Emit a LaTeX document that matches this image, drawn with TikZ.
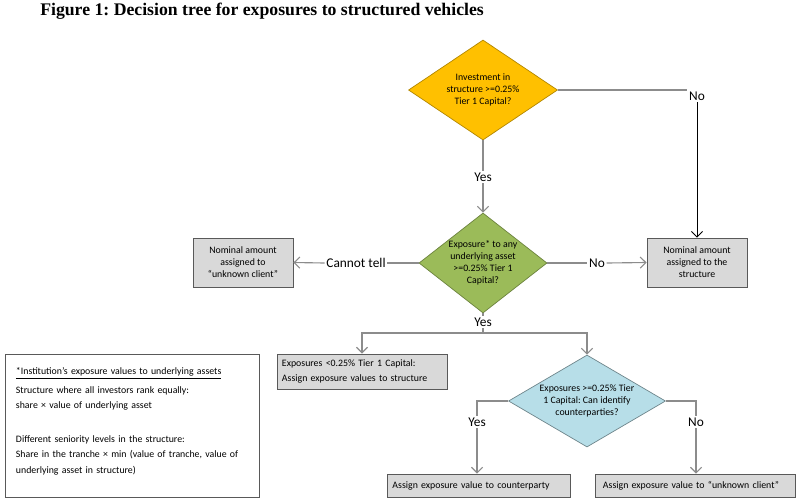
\documentclass[tikz,border=0pt]{standalone}
\usepackage{fontspec}
\setmainfont{Carlito}
\newfontfamily\titlefont{Liberation Serif}
\usetikzlibrary{arrows.meta, shapes.geometric}
\frenchspacing
\definecolor{qyellow}{HTML}{FFC000}
\definecolor{qgreen}{HTML}{9BBB59}
\definecolor{qblue}{HTML}{B7DEE8}
\definecolor{boxgray}{HTML}{D9D9D9}
\definecolor{boxedge}{HTML}{595959}
\definecolor{linegray}{HTML}{8C8C8C}
\tikzset{
  question/.style={diamond, inner sep=0pt, line width=0.5pt},
  qtext/.style={align=center, inner sep=0pt, font=\fontsize{7}{8.4}\selectfont},
  outcome/.style={rectangle, draw=boxedge, fill=boxgray, line width=0.6pt, inner sep=2pt,
    align=center, font=\fontsize{7}{8.6}\selectfont},
  answer/.style={inner sep=1pt, font=\fontsize{9.5}{11}\selectfont},
  link/.style={draw=linegray, line width=0.8pt},
  seta/.style={-{Straight Barb[length=1.4mm, width=2.8mm]}},
  titulo/.style={anchor=west, inner sep=0pt, font=\titlefont\bfseries\fontsize{12.6}{14}\selectfont},
}

\begin{document}
\begin{tikzpicture}[x=0.025cm, y=-0.025cm]
  \useasboundingbox (0,0) rectangle (800,501);
  \node[titulo] (title) at (40,11) {Figure 1: Decision tree for exposures to structured vehicles};

  % ---------------- first question ----------------
  \node[question, fill=qyellow, draw=qyellow!70!black, minimum width=3.725cm, minimum height=2.5cm,
    label={[qtext]center:{Investment in\\ structure >=0.25\%\\ Tier 1 Capital?}}] (invest) at (483,90) {};
  \node[answer] (no1) at (697,96) {No};
  \node[answer] (yes1) at (483,177) {Yes};

  % ---------------- second question ----------------
  \node[question, fill=qgreen, draw=qgreen!70!black, minimum width=3.2cm, minimum height=2.5cm,
    label={[qtext]center:{Exposure* to any\\ underlying asset\\ >=0.25\% Tier 1\\ Capital?}}] (exposure) at (483,263) {};
  \node[outcome, minimum width=2.5cm, minimum height=1.225cm] (client) at (243,262.5)
    {Nominal amount\\ assigned to\\ “unknown client”};
  \node[outcome, minimum width=2.5cm, minimum height=1.225cm] (struct) at (697,262.5)
    {Nominal amount\\ assigned to the\\ structure};
  \node[answer] (cannot) at (356,263) {Cannot tell};
  \node[answer] (no2) at (597,263) {No};
  \node[answer] (yes2) at (483,322) {Yes};
  \coordinate (split) at (483,333);

  % ---------------- third question ----------------
  \node[outcome, minimum width=4.25cm, minimum height=0.875cm, text width=4cm, align=left,
    font=\fontsize{7}{10.7}\selectfont] (below) at (362,371.5)
    {Exposures <0.25\% Tier 1 Capital:\\ Assign exposure values to structure};
  \node[question, fill=qblue, draw=qblue!60!black, minimum width=3.925cm, minimum height=2.3cm,
    label={[qtext]center:{Exposures >=0.25\% Tier\\ 1 Capital: Can identify\\ counterparties?}}] (identify) at (587,401) {};
  \node[answer] (yes3) at (477,422) {Yes};
  \node[answer] (no3) at (696,422) {No};
  \node[outcome, minimum width=4.575cm, minimum height=0.575cm, text width=4.3cm, align=left] (cpty) at (478.5,485.5)
    {Assign exposure value to counterparty};
  \node[outcome, minimum width=5cm, minimum height=0.575cm, text width=4.6cm, align=left] (unknown) at (695,485.5)
    {Assign exposure value to “unknown client”};

  % ---------------- note ----------------
  \node[rectangle, draw=boxedge, fill=white, line width=0.6pt, minimum width=6.35cm, minimum height=3.575cm,
    text width=5.8cm, align=left, inner sep=2pt, font=\fontsize{7}{10.7}\selectfont] (note) at (132,425.5)
    {\underline{*Institution’s exposure values to underlying assets}\\[3pt]
     Structure where all investors rank equally:\\
     share × value of underlying asset\\[13pt]
     Different seniority levels in the structure:\\
     Share in the tranche × min (value of tranche, value of\\[1pt]
     underlying asset in structure)\\[-3.7pt]\mbox{}};

  % ---------------- connectors ----------------
  \draw[link] (invest.east) -- (invest.east -| no1.west);
  \draw[seta, line width=0.6pt] (no1.south) -- (struct.north);
  \draw[link] (invest.south) -- (yes1.north);
  \draw[link, seta] (yes1.south) -- (exposure.north);
  \draw[link] (exposure.west) -- (cannot.east);
  \draw[link, seta] (cannot.west) -- (client.east);
  \draw[link] (exposure.east) -- (no2.west);
  \draw[link, seta] (no2.east) -- (struct.west);
  \draw[link] (exposure.south) -- (yes2.north);
  \draw[link] (yes2.south) -- (split);
  \draw[link, seta] (split) -| (below.north);
  \draw[link, seta] (split) -| (identify.north);
  \draw[link] (identify.west) -| (yes3.north);
  \draw[link, seta] (yes3.south) -- (yes3.south |- cpty.north);
  \draw[link] (identify.east) -| (no3.north);
  \draw[link, seta] (no3.south) -- (no3.south |- unknown.north);
\end{tikzpicture}
\end{document}
